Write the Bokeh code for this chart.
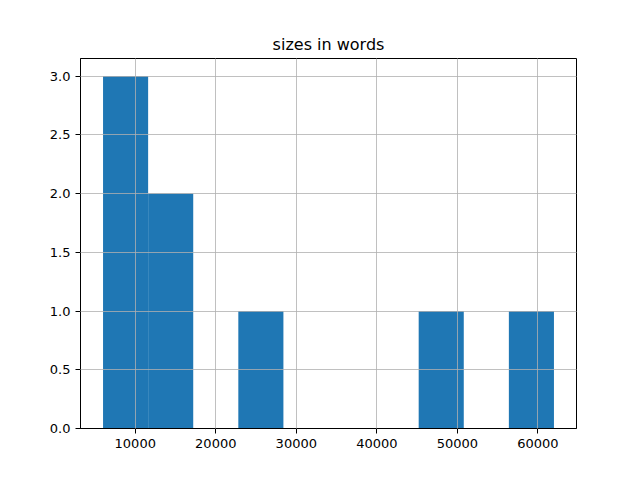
from bokeh.plotting import figure
from bokeh.models import FixedTicker, NumeralTickFormatter, Range1d
from bokeh.embed import file_html
from bokeh.resources import INLINE

title = "sizes in words"
bin_edges = [6000, 11600, 17200, 22800, 28400, 34000, 39600, 45200, 50800, 56400, 62000]
counts = [3, 2, 0, 1, 0, 0, 0, 1, 0, 1]
x_ticks = [10000, 20000, 30000, 40000, 50000, 60000]
y_ticks = [0.0, 0.5, 1.0, 1.5, 2.0, 2.5, 3.0]

p = figure(frame_width=496, frame_height=370, output_backend="svg", toolbar_location=None,
           min_border_left=80, min_border_right=64, min_border_top=58, min_border_bottom=52,
           x_range=Range1d(3200, 64800), y_range=Range1d(0, 3.15), title=title)

p.quad(left=bin_edges[:-1], right=bin_edges[1:], top=counts, bottom=0,
       fill_color="#1f77b4", line_color=None)

p.title.text = title
p.title.align = "center"
p.title.text_font = "DejaVu Sans"
p.title.text_font_size = "16px"
p.title.text_font_style = "normal"
p.title.text_color = "black"

for ax in (p.xaxis[0], p.yaxis[0]):
    ax.major_label_text_font = "DejaVu Sans"
    ax.major_label_text_font_size = "13px"
    ax.major_label_text_color = "black"
    ax.major_tick_out = 5
    ax.major_tick_in = 0
    ax.minor_tick_out = 0
    ax.minor_tick_in = 0
    ax.axis_line_color = "black"
    ax.major_tick_line_color = "black"

p.xaxis.ticker = FixedTicker(ticks=x_ticks)
p.yaxis.ticker = FixedTicker(ticks=y_ticks)
p.xaxis.formatter = NumeralTickFormatter(format="0")
p.yaxis.formatter = NumeralTickFormatter(format="0.0")

p.grid.grid_line_color = "#b0b0b0"
p.grid.grid_line_width = 0.8
p.grid.level = "overlay"
p.outline_line_color = "black"
p.outline_line_width = 1
p.background_fill_color = "white"
p.border_fill_color = "white"

open("out.html", "w").write(file_html(p, INLINE))
